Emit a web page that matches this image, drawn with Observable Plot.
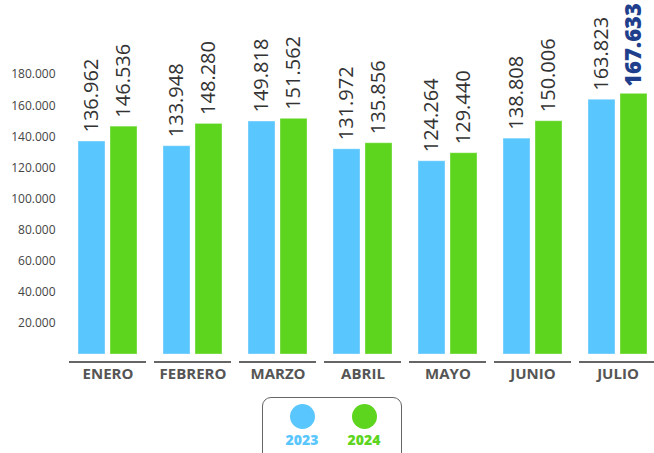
<!DOCTYPE html>
<html>
<head>
<meta charset="utf-8">
<script src="https://cdn.jsdelivr.net/npm/d3@7"></script>
<script src="https://cdn.jsdelivr.net/npm/@observablehq/plot@0.6"></script>
<style>
  html, body { margin: 0; padding: 0; background: #fff; }
  #wrap { position: relative; width: 654px; height: 453px; overflow: hidden; font-family: "Open Sans", sans-serif; }
  #chart svg { display: block; }
  .legend { position: absolute; left: 262px; top: 397px; width: 138px; height: 70px; border: 1.5px solid #666; border-radius: 9px; }
  .dot { position: absolute; width: 25px; height: 25px; border-radius: 50%; top: 6px; }
  .lab { position: absolute; top: 32px; width: 60px; text-align: center; font-weight: 800; font-size: 14px; }
</style>
</head>
<body>
<div id="wrap">
  <div id="chart"></div>
  <div class="legend" id="legend"></div>
</div>
<script>
const months = ["ENERO", "FEBRERO", "MARZO", "ABRIL", "MAYO", "JUNIO", "JULIO"];
const years = ["2023", "2024"];
const values2023 = [136962, 133948, 149818, 131972, 124264, 138808, 163823];
const values2024 = [146536, 148280, 151562, 135856, 129440, 150006, 167633];
const yTicks = [20000, 40000, 60000, 80000, 100000, 120000, 140000, 160000, 180000];
const colors = ["#5AC6FE", "#5DD51E"];
const highlightColor = "#1F3F8C";

const fmt = v => d3.format(",")(v).replace(/,/g, ".");

const data = months.flatMap((m, i) => [
  {month: m, year: years[0], value: values2023[i]},
  {month: m, year: years[1], value: values2024[i]}
]);
const lastIdx = data.length - 1;
const normal = data.filter((d, i) => i !== lastIdx);
const highlight = data.filter((d, i) => i === lastIdx);

const chart = Plot.plot({
  width: 654,
  height: 390,
  marginLeft: 66,
  marginRight: 0,
  marginTop: 43,
  marginBottom: 36,
  style: {fontFamily: "Open Sans", background: "white"},
  fx: {domain: months, range: [66, 659], paddingInner: 8 / 85.67, paddingOuter: 0, label: null},
  x: {domain: years, paddingInner: 0.156, paddingOuter: 0.28, axis: null},
  y: {domain: [0, 200000], axis: null},
  color: {domain: years, range: colors},
  marks: [
    Plot.barY(data, {fx: "month", x: "year", y: "value", fill: "year", stroke: "white", strokeOpacity: 0.35, strokeWidth: 1}),
    Plot.ruleY([0], {dy: 7.5, stroke: "#666", strokeWidth: 2}),
    Plot.axisY({ticks: yTicks, tickSize: 0, tickPadding: 14, tickFormat: fmt, fontSize: 12, fill: "#444", label: null}),
    Plot.axisFx({anchor: "bottom", tickSize: 0, tickPadding: 14, fontSize: 15, fontWeight: 700, fill: "#555", label: null}),
    Plot.text(normal, {fx: "month", x: "year", y: "value", text: d => fmt(d.value), rotate: -90, textAnchor: "start", dy: -9, fontSize: 20, fill: "#333"}),
    Plot.text(highlight, {fx: "month", x: "year", y: "value", text: d => fmt(d.value), rotate: -90, textAnchor: "start", dy: -7, fontSize: 22, fontWeight: 800, fill: highlightColor})
  ]
});
document.getElementById("chart").appendChild(chart);

const legend = document.getElementById("legend");
const centers = [39, 101];
years.forEach((y, i) => {
  const dot = document.createElement("div");
  dot.className = "dot";
  dot.style.left = (centers[i] - 12.5) + "px";
  dot.style.background = colors[i];
  legend.appendChild(dot);
  const lab = document.createElement("div");
  lab.className = "lab";
  lab.style.left = (centers[i] - 30) + "px";
  lab.style.color = colors[i];
  lab.textContent = y;
  legend.appendChild(lab);
});
</script>
</body>
</html>
